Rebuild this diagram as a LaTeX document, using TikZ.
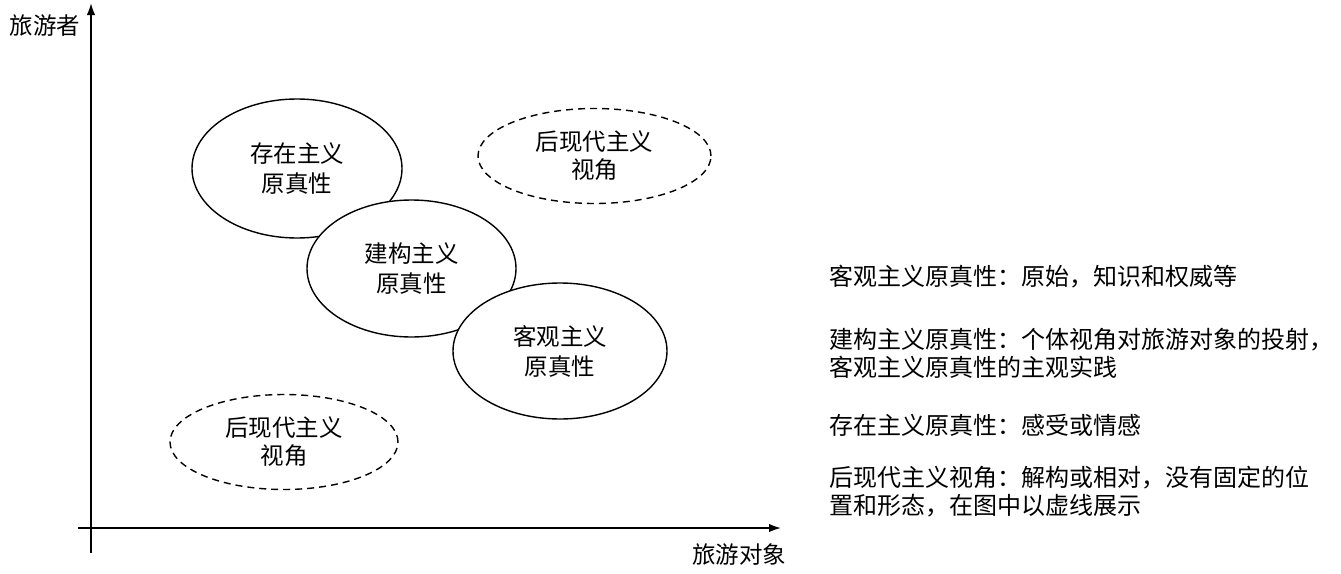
\documentclass[tikz,border=0pt]{standalone}
\usepackage{fontspec}
\setmainfont{Noto Sans CJK SC}
\usetikzlibrary{shapes.geometric,arrows.meta}
\tikzset{
  solidell/.style={ellipse, draw, line width=1.4pt, fill=white, inner sep=0pt, align=center, font=\fontsize{23.5}{30}\selectfont},
  dashell/.style={ellipse, draw, line width=1.4pt, dash pattern=on 7pt off 5pt, inner sep=0pt, align=center, font=\fontsize{23.5}{28}\selectfont},
  axis/.style={line width=1.8pt, -{Latex[length=12pt,width=8.5pt]}},
  lbl/.style={inner sep=0pt, font=\fontsize{23.5}{31}\selectfont},
  note/.style={inner sep=0pt, anchor=west, align=left, font=\fontsize{24}{27.5}\selectfont}
}
\begin{document}
\begin{tikzpicture}[x=1pt,y=-1pt]
\useasboundingbox (0,0) rectangle (1341,573);
% axes
\coordinate (ybot) at (91,553);
\coordinate (ytop) at (91,3);
\coordinate (xleft) at (78,528);
\coordinate (xright) at (781,528);
\draw[axis] (ybot) -- (ytop);
\draw[axis] (xleft) -- (xright);
\node[lbl] (ylab) at (45,26) {旅游者};
\node[lbl] (xlab) at (739,555) {旅游对象};
% ellipses
\node[solidell, minimum width=210pt, minimum height=139pt] (exist) at (297,168.5) {存在主义\\原真性};
\node[solidell, minimum width=209pt, minimum height=137pt] (constr) at (411.5,268.5) {建构主义\\原真性};
\node[solidell, minimum width=214pt, minimum height=136pt] (obj) at (560,351) {客观主义\\原真性};
\node[dashell, minimum width=233pt, minimum height=95pt] (pm1) at (594.5,156) {后现代主义\\视角};
\node[dashell, minimum width=228pt, minimum height=95pt] (pm2) at (284,442) {后现代主义\\视角};
% notes
\node[note] (n1) at (829,277) {客观主义原真性：原始，知识和权威等};
\node[note] (n2) at (829,353.5) {建构主义原真性：个体视角对旅游对象的投射，\\客观主义原真性的主观实践};
\node[note] (n3) at (829,425) {存在主义原真性：感受或情感};
\node[note] (n4) at (829,491.5) {后现代主义视角：解构或相对，没有固定的位\\置和形态，在图中以虚线展示};
\end{tikzpicture}
\end{document}
